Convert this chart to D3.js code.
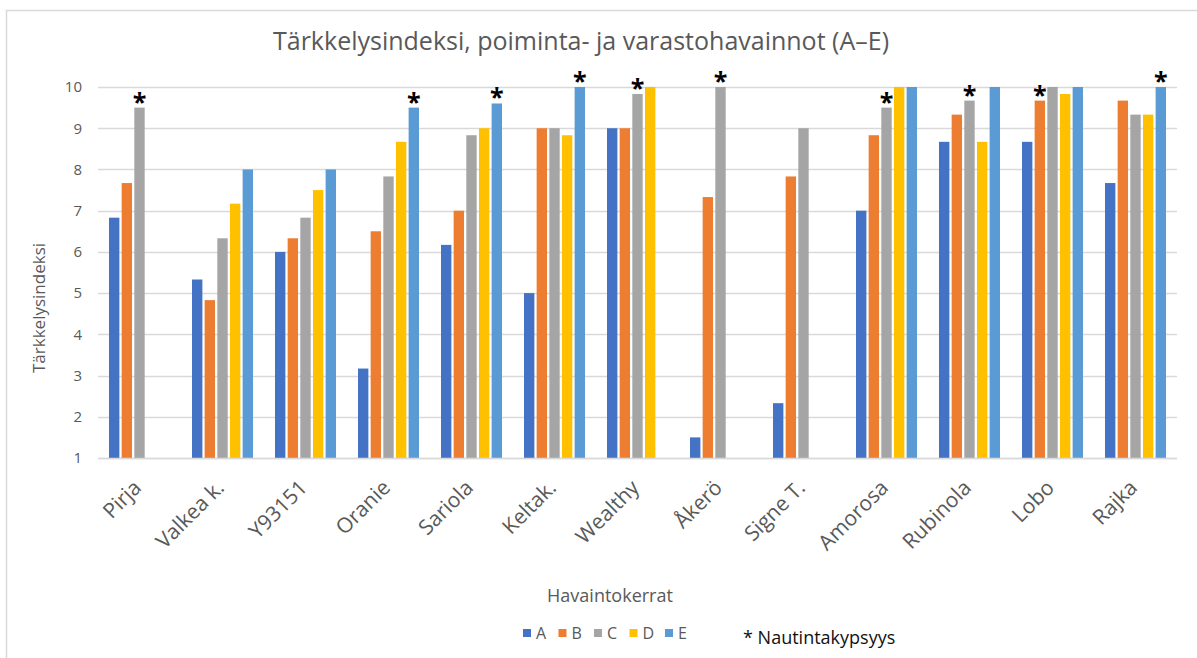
<!DOCTYPE html>
<html>
<head>
<meta charset="utf-8">
<script src="https://cdn.jsdelivr.net/npm/d3@7"></script>
<style>
body { margin: 0; background: #fff; }
text { font-family: "Open Sans", "DejaVu Sans", sans-serif; }
.grid line { stroke: #d9d9d9; stroke-width: 1.3; }
.lbl { fill: #595959; }
</style>
</head>
<body>
<svg id="chart"></svg>
<script>
var width = 1197;
var height = 658;

var cultivars = ["Pirja", "Valkea k.", "Y93151", "Oranie", "Sariola", "Keltak.", "Wealthy",
                 "Åkerö", "Signe T.", "Amorosa", "Rubinola", "Lobo", "Rajka"];
var series = ["A", "B", "C", "D", "E"];
var colors = ["#4472c4", "#ed7d31", "#a5a5a5", "#ffc000", "#5b9bd5"];
// null = no observation
var valA = [6.83, 5.33, 6.0, 3.17, 6.17, 5.0, 9.0, 1.5, 2.33, 7.0, 8.67, 8.67, 7.67];
var valB = [7.67, 4.83, 6.33, 6.5, 7.0, 9.0, 9.0, 7.33, 7.83, 8.83, 9.33, 9.67, 9.67];
var valC = [9.5, 6.33, 6.83, 7.83, 8.83, 9.0, 9.83, 10, 9.0, 9.5, 9.67, 10, 9.33];
var valD = [null, 7.17, 7.5, 8.67, 9.0, 8.83, 10, null, null, 10, 8.67, 9.83, 9.33];
var valE = [null, 8.0, 8.0, 9.5, 9.6, 10, null, null, null, 10, 10, 10, 10];
var yTicks = [1, 2, 3, 4, 5, 6, 7, 8, 9, 10];
// eating ripeness markers: [cultivar, series]
var ripe = [["Pirja", "C"], ["Oranie", "E"], ["Sariola", "E"], ["Keltak.", "E"],
            ["Wealthy", "C"], ["Åkerö", "C"], ["Amorosa", "C"], ["Rubinola", "C"],
            ["Lobo", "B"], ["Rajka", "E"]];

var title = "Tärkkelysindeksi, poiminta- ja varastohavainnot (A–E)";
var yTitle = "Tärkkelysindeksi";
var xTitle = "Havaintokerrat";
var ripeNote = "* Nautintakypsyys";

var values = [valA, valB, valC, valD, valE];
var rows = [];
cultivars.forEach(function(c, i) {
	series.forEach(function(s, j) {
		if (values[j][i] != null) rows.push({ cat: c, ser: s, v: values[j][i] });
	});
});

var plotL = 98, plotR = 1177, plotT = 87, plotB = 458;

var x = d3.scaleBand()
.domain(cultivars)
.range([plotL, plotR])
.paddingInner(0.265)
.paddingOuter(0.1325);

var xs = d3.scaleBand()
.domain(series)
.range([0, x.bandwidth()])
.paddingInner(0.18);

var y = d3.scaleLinear()
.domain([1, 10])
.range([plotB, plotT]);

var color = d3.scaleOrdinal()
.domain(series)
.range(colors);

var svg = d3.select("#chart")
.attr("width", width)
.attr("height", height);

svg.append("rect")
.attr("x", 6.5).attr("y", 10.5)
.attr("width", width + 10).attr("height", height + 10)
.attr("fill", "#fff")
.attr("stroke", "#d9d9d9")
.attr("stroke-width", 1.5);

svg.append("text")
.attr("class", "lbl")
.attr("x", 581).attr("y", 50)
.attr("text-anchor", "middle")
.style("font-size", "25px")
.text(title);

// gridlines
var grid = svg.append("g").attr("class", "grid");
grid.selectAll("line").data(yTicks)
.enter().append("line")
.attr("x1", plotL).attr("x2", plotR)
.attr("y1", function(d) { return Math.round(y(d)) + 0.5; })
.attr("y2", function(d) { return Math.round(y(d)) + 0.5; });

var yAxis = d3.axisLeft(y)
.tickValues(yTicks)
.tickSize(0)
.tickPadding(16)
.tickFormat(d3.format("d"));
var gy = svg.append("g")
.attr("transform", "translate(" + plotL + ",0)")
.call(yAxis);
gy.select(".domain").remove();
gy.selectAll("text")
.attr("class", "lbl")
.style("font-size", "15px");

svg.append("text")
.attr("class", "lbl")
.attr("transform", "translate(45,308) rotate(-90)")
.attr("text-anchor", "middle")
.style("font-size", "17px")
.text(yTitle);

// bars
svg.append("g").selectAll("rect").data(rows)
.enter().append("rect")
.attr("x", function(d) { return x(d.cat) + xs(d.ser); })
.attr("y", function(d) { return y(d.v); })
.attr("width", xs.bandwidth())
.attr("height", function(d) { return plotB - y(d.v); })
.attr("fill", function(d) { return color(d.ser); });

// ripeness asterisks
svg.append("g").selectAll("text").data(ripe)
.enter().append("text")
.attr("x", function(d) { return x(d[0]) + xs(d[1]) + xs.bandwidth()/2; })
.attr("y", function(d) {
	var v = values[series.indexOf(d[1])][cultivars.indexOf(d[0])];
	return y(v) + 3;
})
.attr("text-anchor", "middle")
.style("font-size", "25px")
.style("font-weight", "bold")
.attr("fill", "#000")
.text("*");

// category labels
var xAxis = d3.axisBottom(x).tickSize(0).tickPadding(0);
var gx = svg.append("g")
.attr("transform", "translate(0," + plotB + ")")
.call(xAxis);
gx.select(".domain").remove();
gx.selectAll("text")
.attr("class", "lbl")
.style("font-size", "21px")
.attr("text-anchor", "end")
.attr("dy", null)
.attr("transform", "translate(3,31) rotate(-45)");

svg.append("line")
.attr("x1", plotL).attr("x2", plotR)
.attr("y1", Math.round(plotB) + 0.5).attr("y2", Math.round(plotB) + 0.5)
.attr("stroke", "#d9d9d9")
.attr("stroke-width", 1.3);

svg.append("text")
.attr("class", "lbl")
.attr("x", 610).attr("y", 602)
.attr("text-anchor", "middle")
.style("font-size", "18px")
.text(xTitle);

// legend
var legX = d3.scalePoint()
.domain(series)
.range([523, 665]);
var leg = svg.append("g").selectAll("g").data(series)
.enter().append("g")
.attr("transform", function(d) { return "translate(" + legX(d) + ",629)"; });
leg.append("rect")
.attr("width", 8).attr("height", 8)
.attr("fill", function(d) { return color(d); });
leg.append("text")
.attr("class", "lbl")
.attr("x", 13).attr("y", 9.5)
.style("font-size", "16px")
.text(function(d) { return d; });

svg.append("text")
.attr("x", 743).attr("y", 644)
.attr("fill", "#111")
.style("font-size", "18px")
.text(ripeNote);
</script>
</body>
</html>
